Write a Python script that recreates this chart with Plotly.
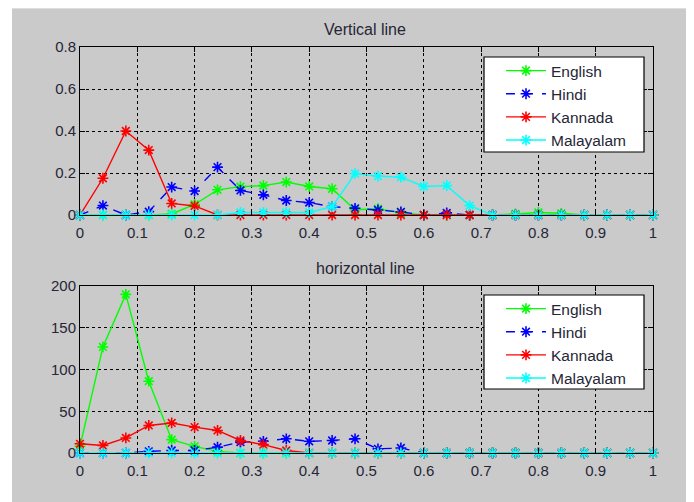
import plotly.graph_objects as go

x_vals = [round(i * 0.04, 2) for i in range(26)]

series_names = ["English", "Hindi", "Kannada", "Malayalam"]
series_colors = ["#00ff00", "#0000ff", "#ff0000", "#00ffff"]
series_dash = ["solid", "dash", "solid", "solid"]

# Vertical line (top)
v_english = [0, 0, 0, 0, 0.005, 0.05, 0.12, 0.135, 0.14, 0.157, 0.136, 0.125, 0.025, 0.03, 0.01, 0, 0, 0, 0, 0.005, 0.012, 0.008, 0, 0, 0, 0]
v_hindi = [0, 0.045, 0, 0.016, 0.133, 0.114, 0.228, 0.117, 0.096, 0.069, 0.059, 0.04, 0.032, 0.024, 0.015, 0, 0.01, 0, 0, 0, 0, 0, 0, 0, 0, 0]
v_kannada = [0, 0.175, 0.40, 0.309, 0.055, 0.043, 0, 0, 0, 0, 0, 0, 0, 0, 0, 0, 0, 0, 0, 0, 0, 0, 0, 0, 0, 0]
v_malayalam = [0, 0, 0, 0, 0, 0, 0, 0.012, 0.012, 0.012, 0.012, 0.04, 0.197, 0.185, 0.18, 0.136, 0.14, 0.045, 0, 0, 0, 0, 0, 0, 0, 0]

# horizontal line (bottom)
h_english = [8, 127, 190, 86, 16, 8, 2, 0, 0, 0, 0, 0, 0, 0, 0, 0, 0, 0, 0, 0, 0, 0, 0, 0, 0, 0]
h_hindi = [0, 0, 0, 2, 3, 3, 7, 13, 14, 17, 14, 15, 17, 5, 6, 0, 0, 0, 0, 0, 0, 0, 0, 0, 0, 0]
h_kannada = [11, 9, 18, 33, 36, 31, 27, 15, 10, 3, 0, 0, 0, 0, 0, 0, 0, 0, 0, 0, 0, 0, 0, 0, 0, 0]
h_malayalam = [0] * 26

x_ticks = [0, 0.1, 0.2, 0.3, 0.4, 0.5, 0.6, 0.7, 0.8, 0.9, 1]
x_tick_labels = ["0", "0.1", "0.2", "0.3", "0.4", "0.5", "0.6", "0.7", "0.8", "0.9", "1"]
v_y_ticks = [0, 0.2, 0.4, 0.6, 0.8]
v_y_labels = ["0", "0.2", "0.4", "0.6", "0.8"]
h_y_ticks = [0, 50, 100, 150, 200]
h_y_labels = ["0", "50", "100", "150", "200"]

W, H = 694, 502
OFF = 8  # page body margin
FONT = "Liberation Sans, Arial, sans-serif"
TXT = "#262636"

fig = go.Figure()

top_data = [v_english, v_hindi, v_kannada, v_malayalam]
bot_data = [h_english, h_hindi, h_kannada, h_malayalam]

for name, col, dash, ys in zip(series_names, series_colors, series_dash, top_data):
    fig.add_trace(go.Scatter(
        x=x_vals, y=ys, name=name, mode="lines+markers",
        line=dict(color=col, width=1.4, dash=dash),
        marker=dict(symbol="asterisk-open", size=9, line=dict(color=col, width=1.6)),
        xaxis="x", yaxis="y", legend="legend", cliponaxis=False,
    ))
for name, col, dash, ys in zip(series_names, series_colors, series_dash, bot_data):
    fig.add_trace(go.Scatter(
        x=x_vals, y=ys, name=name, mode="lines+markers",
        line=dict(color=col, width=1.4, dash=dash),
        marker=dict(symbol="asterisk-open", size=9, line=dict(color=col, width=1.6)),
        xaxis="x2", yaxis="y2", legend="legend2", cliponaxis=False,
    ))

def px_x(p):
    return (p - OFF) / W

def px_y(p):
    return 1 - (p - OFF) / H

axis_common = dict(
    showgrid=True, gridcolor="#000000", griddash="dot", gridwidth=1,
    showline=True, linecolor="#000000", linewidth=1, mirror="ticks",
    ticks="inside", ticklen=5, tickcolor="#000000",
    zeroline=False, automargin=False,
    tickfont=dict(family=FONT, size=15, color=TXT),
)

legend_common = dict(
    xanchor="left", yanchor="top",
    bgcolor="rgba(0,0,0,0)", borderwidth=0,
    font=dict(family=FONT, size=15.5, color=TXT), itemwidth=40,
    tracegroupgap=0,
)

fig.update_layout(
    template="none",
    width=W, height=H, autosize=False,
    margin=dict(l=0, r=0, t=0, b=0, pad=0),
    paper_bgcolor="#ffffff", plot_bgcolor="#ffffff",
    font=dict(family=FONT, size=15, color=TXT),
    xaxis=dict(domain=[px_x(80), px_x(653)], range=[0, 1], tickvals=x_ticks, ticktext=x_tick_labels,
               anchor="y", ticklabelstandoff=4, **axis_common),
    yaxis=dict(domain=[px_y(215), px_y(47)], range=[0, 0.8], tickvals=v_y_ticks, ticktext=v_y_labels,
               anchor="x", **axis_common),
    xaxis2=dict(domain=[px_x(80), px_x(653)], range=[0, 1], tickvals=x_ticks, ticktext=x_tick_labels,
                anchor="y2", ticklabelstandoff=4, **axis_common),
    yaxis2=dict(domain=[px_y(453), px_y(286)], range=[0, 200], tickvals=h_y_ticks, ticktext=h_y_labels,
                anchor="x2", **axis_common),
    legend=dict(x=px_x(501), y=px_y(54), **legend_common),
    legend2=dict(x=px_x(501), y=px_y(292), **legend_common),
    shapes=[
        dict(type="rect", xref="paper", yref="paper", x0=px_x(12), x1=1, y0=0, y1=px_y(5),
             fillcolor="#dedede", line=dict(width=0), layer="below"),
        dict(type="rect", xref="paper", yref="paper", x0=px_x(12), x1=1, y0=0, y1=px_y(9),
             fillcolor="#cacaca", line=dict(width=0), layer="below"),
        dict(type="rect", xref="paper", yref="paper", x0=px_x(484), x1=px_x(644), y0=px_y(152), y1=px_y(57),
             fillcolor="#ffffff", line=dict(color="#000000", width=1.2), layer="above"),
        dict(type="rect", xref="paper", yref="paper", x0=px_x(484), x1=px_x(644), y0=px_y(389), y1=px_y(295),
             fillcolor="#ffffff", line=dict(color="#000000", width=1.2), layer="above"),
    ],
    annotations=[
        dict(text="Vertical line", xref="paper", yref="paper", x=px_x(365), y=px_y(30),
             xanchor="center", yanchor="middle", showarrow=False,
             font=dict(family=FONT, size=16, color=TXT)),
        dict(text="horizontal line", xref="paper", yref="paper", x=px_x(365), y=px_y(268),
             xanchor="center", yanchor="middle", showarrow=False,
             font=dict(family=FONT, size=16, color=TXT)),
    ],
    showlegend=True,
)

fig.write_html("out.html")
